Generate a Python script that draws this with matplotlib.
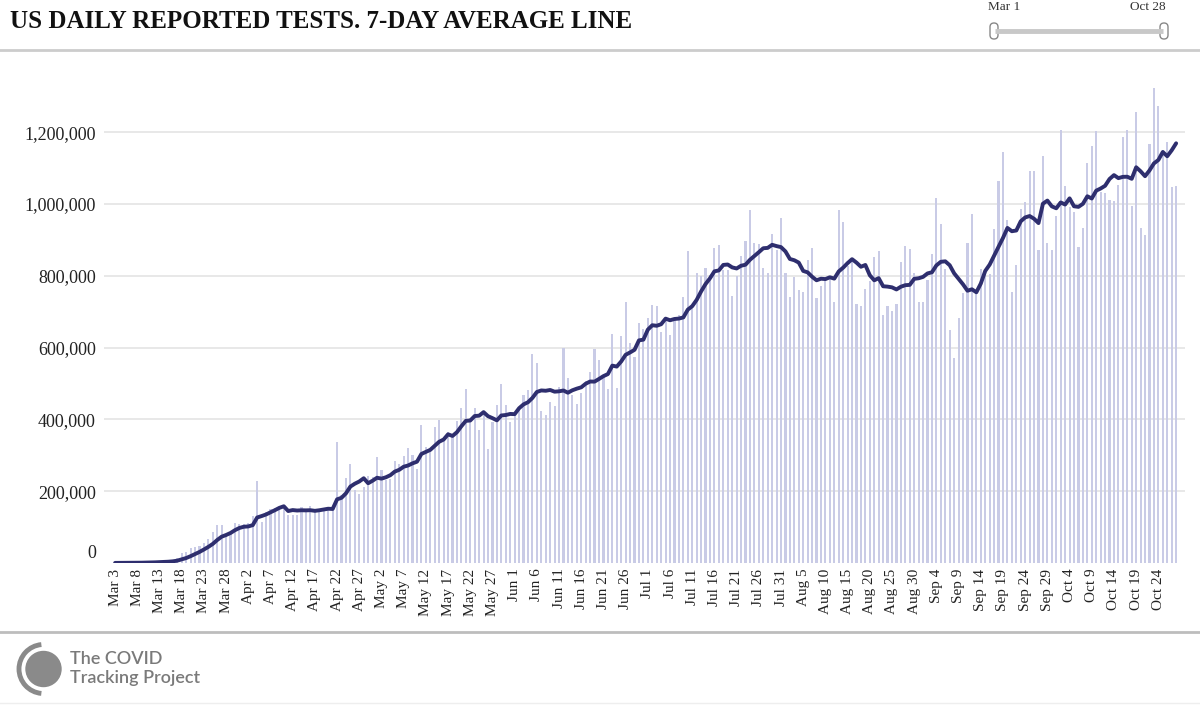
import numpy as np
import pandas as pd
import matplotlib
matplotlib.use("Agg")
import matplotlib.pyplot as plt
from matplotlib.lines import Line2D
from matplotlib.patches import Circle, Arc, FancyBboxPatch

# US daily reported tests (thousands), Mar 3 - Oct 28
mar = [0.3, 0.4, 0.6, 0.8, 1.0, 1.3, 1.6, 2.0, 2.6, 3.5, 4.5, 5.0, 6.0,
       9, 15, 27, 30, 41, 45, 48, 57, 66, 85, 106, 106, 78, 87, 112, 109]
apr = [109, 112, 131, 227, 115, 143, 150, 152, 157, 162, 134, 134, 134, 155, 150,
       160, 150, 145, 148, 150, 150, 338, 190, 237, 277, 204, 193, 213, 241, 239]
may = [295, 260, 230, 234, 283, 276, 299, 319, 302, 262, 385, 323, 316, 379, 397, 345,
       364, 353, 396, 432, 484, 404, 432, 371, 422, 317, 394, 441, 499, 441, 392]
jun = [418, 432, 469, 483, 583, 557, 422, 412, 447, 436, 490, 599, 514, 469, 444,
       473, 506, 533, 597, 566, 524, 484, 638, 487, 633, 727, 612, 575, 668, 652]
jul = [682, 719, 717, 642, 684, 636, 677, 690, 742, 868, 710, 807, 800, 821, 803, 877,
       886, 817, 815, 744, 800, 856, 897, 982, 891, 889, 821, 807, 916, 872, 962]
aug = [807, 742, 796, 761, 754, 844, 877, 738, 772, 789, 796, 728, 984, 951, 826, 849,
       722, 715, 763, 784, 852, 868, 691, 715, 701, 722, 837, 882, 874, 809, 726]
sep = [728, 789, 860, 1016, 944, 818, 650, 570, 681, 753, 892, 972, 760, 819, 816,
       805, 929, 1064, 1144, 955, 755, 830, 985, 1004, 1091, 1091, 871, 1133, 890, 873]
oct_ = [966, 1205, 1050, 992, 978, 879, 932, 1113, 1162, 1203, 1034, 1031, 1011, 1008,
        1054, 1187, 1205, 994, 1256, 932, 913, 1166, 1324, 1272, 1150, 1173, 1047, 1050]

daily = np.array(mar + apr + may + jun + jul + aug + sep + oct_) * 1000
dates = pd.date_range("2020-03-03", "2020-10-28", freq="D")
avg7 = pd.Series(daily).rolling(7, min_periods=1).mean()

tick_idx = np.arange(0, len(dates), 5)
tick_labels = [f"{d:%b} {d.day}" for d in dates[tick_idx]]
y_ticks = [200000, 400000, 600000, 800000, 1000000, 1200000]

SERIF = "Liberation Serif"
BAR_COLOR = "#c9cbe6"
LINE_COLOR = "#2e2e6e"
TEXT_COLOR = "#222222"

fig = plt.figure(figsize=(12, 7.05), dpi=100)

ax = fig.add_axes([104 / 1200, 142 / 705, 1081 / 1200, 493 / 705])
x = np.arange(len(daily))
ax.bar(x, daily, width=0.48, color=BAR_COLOR, zorder=2)
ax.plot(x, avg7, color=LINE_COLOR, lw=2.8, zorder=3, solid_capstyle="round")

ax.set_xlim(-2.5, 241)
ax.set_ylim(0, 1373000)
for s in ax.spines.values():
    s.set_visible(False)
ax.set_yticks(y_ticks)
ax.set_yticklabels([f"{v:,}" for v in y_ticks], fontfamily=SERIF, fontsize=13, color=TEXT_COLOR)
ax.set_xticks(tick_idx)
ax.set_xticklabels(tick_labels, rotation=90, fontfamily=SERIF, fontsize=11, color=TEXT_COLOR)
ax.tick_params(axis="y", length=0, pad=6)
ax.tick_params(axis="x", length=0, pad=4)
ax.grid(axis="y", color="#e4e4e4", lw=1.2, zorder=0)
ax.set_axisbelow(True)
ax.annotate("0", xy=(0, 0), xycoords=("axes fraction", "data"), xytext=(-8, 10),
            textcoords="offset pixels", ha="right", va="center",
            fontfamily=SERIF, fontsize=13, color=TEXT_COLOR)

# overlay in pixel coordinates for title, slider and footer
ov = fig.add_axes([0, 0, 1, 1], zorder=-1)
ov.set_xlim(0, 1200)
ov.set_ylim(705, 0)
ov.axis("off")

ov.text(10, 21, "US DAILY REPORTED TESTS. 7-DAY AVERAGE LINE", fontfamily=SERIF,
        fontweight="bold", fontsize=18, color="#111111", va="center", ha="left")
ov.add_line(Line2D([0, 1200], [50, 50], color="#cccccc", lw=2))

# date range slider
ov.text(988, 7, "Mar 1", fontfamily=SERIF, fontsize=9.5, color="#333333", va="center", ha="left")
ov.text(1166, 7, "Oct 28", fontfamily=SERIF, fontsize=9.5, color="#333333", va="center", ha="right")
ov.add_line(Line2D([995, 1163], [31, 31], color="#c8c8c8", lw=3.5, solid_capstyle="butt"))
for hx in (994, 1164):
    ov.add_patch(FancyBboxPatch((hx - 4, 23), 8, 16, boxstyle="round,pad=0,rounding_size=4",
                                fc="white", ec="#888888", lw=1))

# footer
ov.add_line(Line2D([0, 1200], [632, 632], color="#bdbdbd", lw=2))
ov.add_line(Line2D([0, 1200], [703, 703], color="#eeeeee", lw=1))
ov.add_patch(Circle((43.5, 669), 17.5, color="#8a8a8a"))
ov.add_patch(Arc((43.5, 669), 49, 49, theta1=95, theta2=265, color="#8a8a8a", lw=3.5))
ov.text(70, 659, "The COVID", fontfamily="Lato", fontweight="semibold", fontsize=13,
        color="#7a7a7a", va="center", ha="left")
ov.text(70, 678, "Tracking Project", fontfamily="Lato", fontweight="semibold", fontsize=13,
        color="#7a7a7a", va="center", ha="left")

fig.savefig("out.png", dpi=100)
